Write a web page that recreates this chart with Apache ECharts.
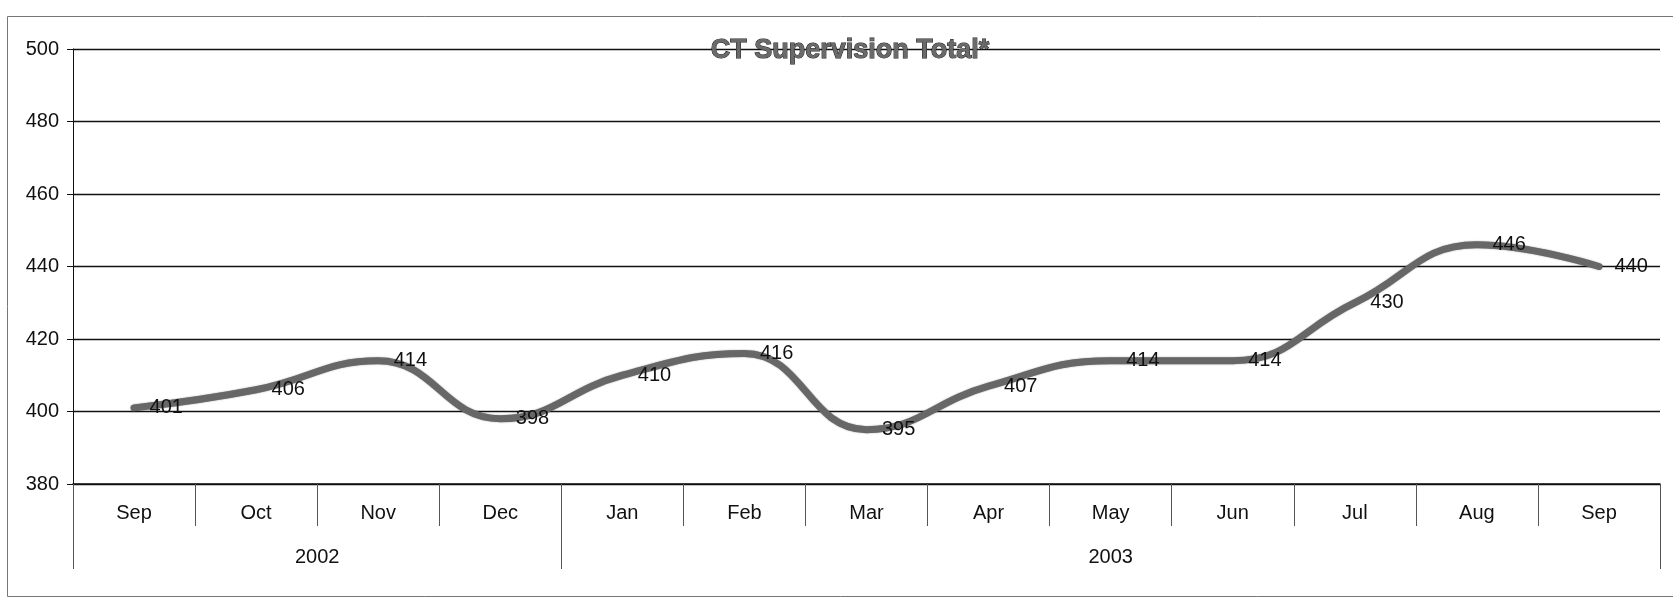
<!DOCTYPE html>
<html>
<head>
<meta charset="utf-8">
<script src="https://cdn.jsdelivr.net/npm/echarts@6/dist/echarts.min.js"></script>
<style>
html,body{margin:0;padding:0;background:#ffffff;}
#c{width:1673px;height:602px;}
</style>
</head>
<body>
<div id="c"></div>
<script>
const months = ['Sep','Oct','Nov','Dec','Jan','Feb','Mar','Apr','May','Jun','Jul','Aug','Sep'];
const totals = [401, 406, 414, 398, 410, 416, 395, 407, 414, 414, 430, 446, 440];
const years = ['2002', '2003'];
const yearSpans = [4, 9];
const yTicks = [380, 400, 420, 440, 460, 480, 500];

// boundaries and centres of year groups (in category units)
const yearBounds = [0];
const yearCenters = [];
yearSpans.forEach(function (s) {
  const start = yearBounds[yearBounds.length - 1];
  yearCenters.push(start + s / 2);
  yearBounds.push(start + s);
});

const FONT = '"Liberation Sans", Arial, sans-serif';
const chart = echarts.init(document.getElementById('c'), null, {renderer: 'canvas'});
chart.setOption({
  backgroundColor: '#ffffff',
  animation: false,
  title: {
    text: 'CT Supervision Total*',
    left: 845,
    top: 32,
    textAlign: 'center',
    textStyle: {
      fontFamily: FONT, fontSize: 27, fontWeight: 'bold',
      color: '#6a6a6a', textBorderColor: '#222', textBorderWidth: 1
    }
  },
  graphic: [{
    type: 'rect', silent: true, z: -1,
    shape: {x: 7.5, y: 16.5, width: 1700, height: 580},
    style: {fill: 'none', stroke: '#777', lineWidth: 1}
  }],
  grid: {left: 73, right: 13, top: 49, bottom: 118, containLabel: false},
  xAxis: [{
    type: 'category',
    data: months,
    position: 'bottom',
    boundaryGap: true,
    axisLine: {show: true, lineStyle: {color: '#111', width: 1.5}},
    axisTick: {show: true, interval: 0, length: 42, lineStyle: {color: '#555', width: 1}},
    axisLabel: {interval: 0, margin: 19, fontFamily: FONT, fontSize: 20, color: '#111'},
    splitLine: {show: false}
  }, {
    type: 'value',
    min: 0,
    max: months.length,
    position: 'bottom',
    axisLine: {show: false},
    axisTick: {show: true, customValues: yearBounds, length: 85, lineStyle: {color: '#555', width: 1}},
    axisLabel: {
      customValues: yearCenters, margin: 63, fontFamily: FONT, fontSize: 20, color: '#111',
      formatter: function (v) { const i = yearCenters.indexOf(v); return i >= 0 ? years[i] : ''; }
    },
    splitLine: {show: false}
  }],
  yAxis: {
    type: 'value',
    min: yTicks[0],
    max: yTicks[yTicks.length - 1],
    interval: 20,
    axisLine: {show: true, lineStyle: {color: '#111', width: 1}},
    axisTick: {show: true, length: 6, lineStyle: {color: '#111'}},
    axisLabel: {margin: 14, fontFamily: FONT, fontSize: 20, color: '#111'},
    splitLine: {show: true, lineStyle: {color: '#111', width: 1.3}}
  },
  series: [{
    type: 'line',
    xAxisIndex: 0,
    data: totals,
    smooth: 0.45,
    symbol: 'circle',
    symbolSize: 1,
    showSymbol: true,
    itemStyle: {color: 'rgba(0,0,0,0)'},
    lineStyle: {color: '#676767', width: 7, cap: 'round', shadowColor: 'rgba(0,0,0,0.45)', shadowBlur: 1.5},
    label: {
      show: true, position: 'right', distance: 15, offset: [0, 3],
      fontFamily: FONT, fontSize: 20, color: '#111'
    },
    labelLayout: {hideOverlap: false},
    z: 3
  }]
});
</script>
</body>
</html>
